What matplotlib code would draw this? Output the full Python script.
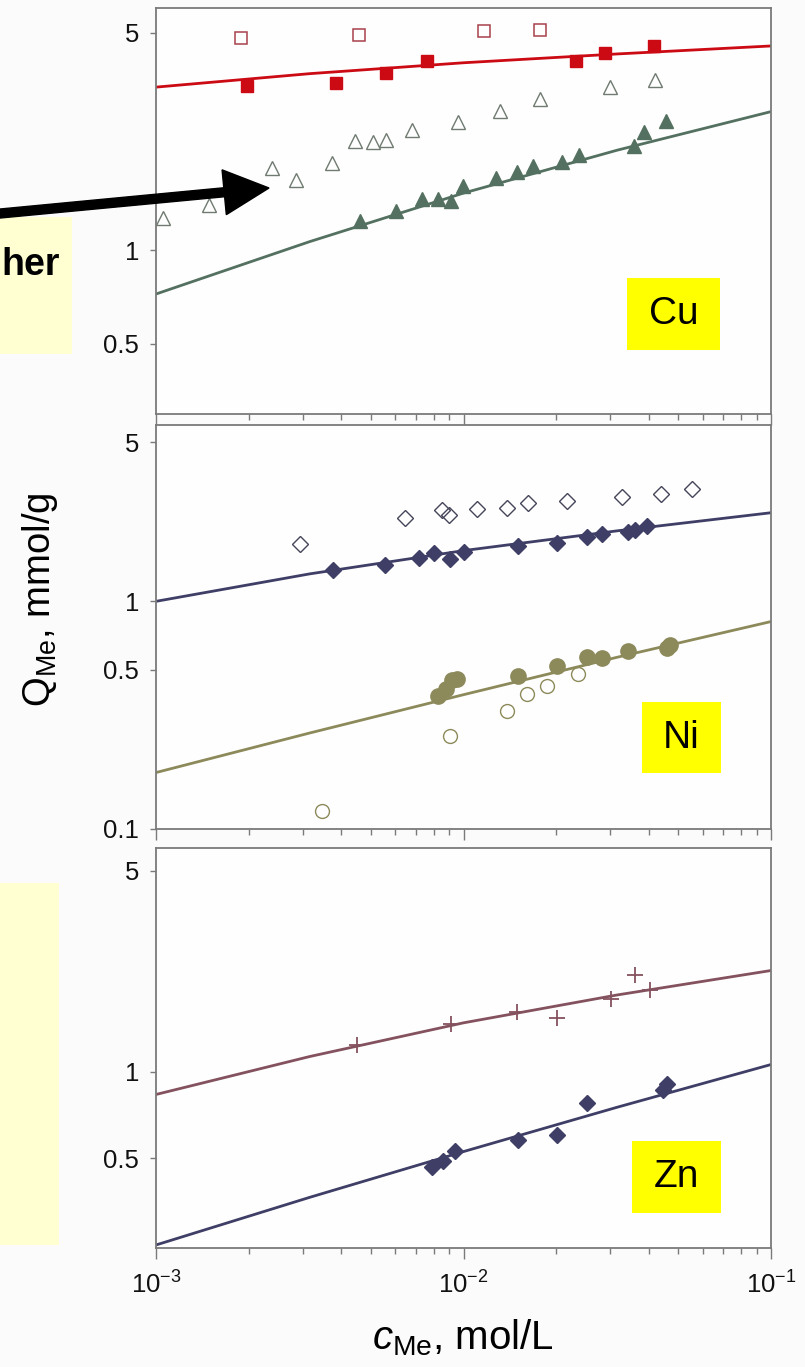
import math
import matplotlib
matplotlib.use('Agg')
import matplotlib.pyplot as plt
from matplotlib.ticker import LogLocator, FixedLocator, FixedFormatter, NullLocator, FuncFormatter, NullFormatter
from matplotlib.patches import Rectangle, FancyArrow

plt.rcParams['font.family'] = ['Liberation Sans', 'DejaVu Sans']
plt.rcParams['mathtext.fontset'] = 'custom'
plt.rcParams['mathtext.rm'] = 'Liberation Sans'
plt.rcParams['mathtext.it'] = 'Liberation Sans:italic'

# ---- data ----
# concentrations (half-decade steps) at which the fitted curves were read
fit_c = [1e-3, 3.16e-3, 1e-2, 3.16e-2, 1e-1]

# Cu
cu_open_sq_x = [1.89e-3, 4.57e-3, 1.17e-2, 1.77e-2]
cu_open_sq_y = [4.80, 4.91, 5.06, 5.10]
cu_sq_x = [1.98e-3, 3.85e-3, 5.6e-3, 7.6e-3, 2.32e-2, 2.89e-2, 4.17e-2]
cu_sq_y = [3.37, 3.44, 3.71, 4.05, 4.05, 4.30, 4.53]
cu_open_tri_x = [1.05e-3, 1.49e-3, 2.38e-3, 2.85e-3, 3.73e-3, 4.44e-3, 5.08e-3,
                 5.60e-3, 6.80e-3, 9.60e-3, 1.31e-2, 1.77e-2, 2.99e-2, 4.20e-2]
cu_open_tri_y = [1.27, 1.40, 1.84, 1.68, 1.90, 2.24, 2.22,
                 2.26, 2.43, 2.58, 2.80, 3.06, 3.34, 3.52]
cu_tri_x = [4.61e-3, 6.03e-3, 7.33e-3, 8.26e-3, 9.10e-3, 9.96e-3, 1.28e-2,
            1.49e-2, 1.68e-2, 2.09e-2, 2.38e-2, 3.58e-2, 3.86e-2, 4.56e-2]
cu_tri_y = [1.24, 1.33, 1.46, 1.46, 1.44, 1.61, 1.70,
            1.78, 1.86, 1.92, 2.02, 2.16, 2.40, 2.60]
cu_fit_red = [3.34, 3.69, 4.00, 4.27, 4.53]
cu_fit_green = [0.722, 1.064, 1.524, 2.094, 2.786]

# Ni
ni_open_d_x = [2.94e-3, 6.45e-3, 8.51e-3, 8.97e-3, 1.11e-2, 1.38e-2, 1.62e-2,
               2.17e-2, 3.27e-2, 4.39e-2, 5.53e-2]
ni_open_d_y = [1.79, 2.33, 2.53, 2.40, 2.55, 2.58, 2.69, 2.77, 2.86, 2.97, 3.10]
ni_d_x = [3.76e-3, 5.56e-3, 7.17e-3, 8.02e-3, 9.04e-3, 1.00e-2, 1.50e-2,
          2.01e-2, 2.52e-2, 2.82e-2, 3.43e-2, 3.61e-2, 3.95e-2]
ni_d_y = [1.37, 1.44, 1.55, 1.63, 1.53, 1.65, 1.75, 1.81, 1.92, 1.98, 2.02, 2.06, 2.15]
ni_circ_x = [8.26e-3, 8.77e-3, 9.18e-3, 9.52e-3, 1.50e-2, 2.01e-2, 2.52e-2,
             2.82e-2, 3.43e-2, 4.59e-2, 4.70e-2]
ni_circ_y = [0.384, 0.412, 0.452, 0.456, 0.471, 0.521, 0.571, 0.565, 0.607, 0.626, 0.645]
ni_open_c_x = [3.47e-3, 9.04e-3, 1.38e-2, 1.61e-2, 1.87e-2, 2.36e-2]
ni_open_c_y = [0.120, 0.255, 0.330, 0.392, 0.425, 0.480]
ni_fit_navy = [1.00, 1.32, 1.67, 2.04, 2.45]
ni_fit_olive = [0.177, 0.264, 0.389, 0.568, 0.815]

# Zn
zn_plus_x = [4.50e-3, 9.10e-3, 1.49e-2, 2.01e-2, 3.02e-2, 3.61e-2, 4.04e-2]
zn_plus_y = [1.24, 1.47, 1.61, 1.54, 1.79, 2.17, 1.92]
zn_d_x = [7.90e-3, 8.58e-3, 9.38e-3, 1.50e-2, 2.01e-2, 2.53e-2, 4.44e-2, 4.58e-2]
zn_d_y = [0.466, 0.491, 0.530, 0.578, 0.602, 0.780, 0.863, 0.910]
zn_fit_mauve = [0.834, 1.13, 1.48, 1.85, 2.25]
zn_fit_navy = [0.250, 0.366, 0.528, 0.753, 1.06]

# colours
RED = '#cc0a14'
ROSE = '#a8404c'
GREEN = '#537060'
GREY = '#6f7a70'
NAVY = '#3f3e66'
OLIVE = '#8c8a5a'
MAUVE = '#84525e'
SPINE = '#7a7a7a'

W, H = 805, 1367
fig = plt.figure(figsize=(W / 100, H / 100), dpi=100)
fig.patch.set_facecolor('#fbfbfb')


def rect(l, t, r, b):
    return [l / W, 1 - b / H, (r - l) / W, (b - t) / H]


def style(ax, ylim, yticks, show_x):
    ax.set_xscale('log')
    ax.set_yscale('log')
    ax.set_xlim(1e-3, 1e-1)
    ax.set_ylim(*ylim)
    ax.set_facecolor('#fefefe')
    for s in ax.spines.values():
        s.set_color(SPINE)
        s.set_linewidth(1.3)
    ax.yaxis.set_major_locator(FixedLocator(yticks))
    ax.yaxis.set_major_formatter(FixedFormatter([('%g' % v) for v in yticks]))
    ax.yaxis.set_minor_locator(NullLocator())
    ax.xaxis.set_major_locator(LogLocator(base=10))
    ax.xaxis.set_minor_locator(LogLocator(base=10, subs=range(2, 10)))
    ax.xaxis.set_minor_formatter(NullFormatter())
    if show_x:
        ax.xaxis.set_major_formatter(
            FuncFormatter(lambda v, p: r'$\mathrm{10^{%d}}$' % round(math.log10(v))))
    else:
        ax.xaxis.set_major_formatter(NullFormatter())
    ax.tick_params(axis='y', which='major', direction='out', length=4, width=1,
                   color=SPINE, labelsize=18.5, pad=8, labelcolor='#111111')
    ax.tick_params(axis='x', which='major', direction='out', length=8, width=1,
                   color=SPINE, labelsize=18.5, pad=9, labelcolor='#111111')
    ax.tick_params(axis='x', which='minor', direction='out', length=4, width=1, color=SPINE)


ax_cu = fig.add_axes(rect(156, 8, 771, 414))
ax_ni = fig.add_axes(rect(156, 425, 771, 829))
ax_zn = fig.add_axes(rect(156, 848, 771, 1248))

style(ax_cu, (0.297, 6.0), [0.5, 1, 5], False)
style(ax_ni, (0.1, 5.95), [0.1, 0.5, 1, 5], False)
style(ax_zn, (0.244, 6.0), [0.5, 1, 5], True)

# Cu panel
ax_cu.plot(fit_c, cu_fit_red, color=RED, lw=2)
ax_cu.plot(fit_c, cu_fit_green, color=GREEN, lw=2)
ax_cu.plot(cu_open_sq_x, cu_open_sq_y, 's', ms=8.5, mfc='none', mec=ROSE, mew=1.1)
ax_cu.plot(cu_sq_x, cu_sq_y, 's', ms=9, color=RED)
ax_cu.plot(cu_open_tri_x, cu_open_tri_y, '^', ms=10, mfc='none', mec=GREY, mew=1)
ax_cu.plot(cu_tri_x, cu_tri_y, '^', ms=10, color=GREEN)

# Ni panel
ax_ni.plot(fit_c, ni_fit_navy, color=NAVY, lw=2)
ax_ni.plot(fit_c, ni_fit_olive, color=OLIVE, lw=2)
ax_ni.plot(ni_open_d_x, ni_open_d_y, 'D', ms=8, mfc='none', mec='#45455a', mew=1)
ax_ni.plot(ni_d_x, ni_d_y, 'D', ms=8, color=NAVY)
ax_ni.plot(ni_circ_x, ni_circ_y, 'o', ms=11, color=OLIVE)
ax_ni.plot(ni_open_c_x, ni_open_c_y, 'o', ms=10, mfc='none', mec=OLIVE, mew=1)

# Zn panel
ax_zn.plot(fit_c, zn_fit_mauve, color=MAUVE, lw=2)
ax_zn.plot(fit_c, zn_fit_navy, color=NAVY, lw=2)
ax_zn.plot(zn_plus_x, zn_plus_y, '+', ms=12, color=MAUVE, mew=1.3)
ax_zn.plot(zn_d_x, zn_d_y, 'D', ms=8, color=NAVY)

# metal labels in yellow boxes (pixel boxes)
for (l, t, r, b), name in [((627, 278, 720, 350), 'Cu'),
                           ((642, 702, 721, 773), 'Ni'),
                           ((632, 1141, 721, 1213), 'Zn')]:
    fig.patches.append(Rectangle((l / W, 1 - b / H), (r - l) / W, (b - t) / H,
                                 transform=fig.transFigure, facecolor='#ffff00',
                                 edgecolor='none', zorder=5))
    fig.text((l + r) / 2 / W, 1 - (t + b) / 2 / H, name, fontsize=28,
             ha='center', va='center', zorder=6)

# light yellow callout boxes at left edge (cut off in the source)
fig.patches.append(Rectangle((0, 1 - 354 / H), 72 / W, (354 - 217) / H,
                             transform=fig.transFigure, facecolor='#ffffd2',
                             edgecolor='none', zorder=4))
fig.patches.append(Rectangle((0, 1 - 1245 / H), 59 / W, (1245 - 883) / H,
                             transform=fig.transFigure, facecolor='#ffffd2',
                             edgecolor='none', zorder=4))
fig.text(1 / W, 1 - 275 / H, 'her', fontsize=27, fontweight='bold',
         ha='left', va='baseline', zorder=6)

# black arrow (inch coordinates, 100 px per inch)
fig.patches.append(FancyArrow(-0.05, (H - 214) / 100, 2.74, 0.26, width=0.09,
                              head_width=0.45, head_length=0.45,
                              length_includes_head=True, color='black',
                              transform=fig.dpi_scale_trans, zorder=7))

# axis titles
fig.text(40 / W, 1 - 600 / H, r'$\mathrm{Q_{Me}}$, mmol/g', rotation=90,
         fontsize=27.5, ha='center', va='center')
fig.text(463 / W, 1 - 1338 / H, r'$c_\mathrm{Me}$, mol/L', fontsize=29,
         ha='center', va='center')

fig.savefig('out.png', dpi=100, facecolor=fig.get_facecolor())
